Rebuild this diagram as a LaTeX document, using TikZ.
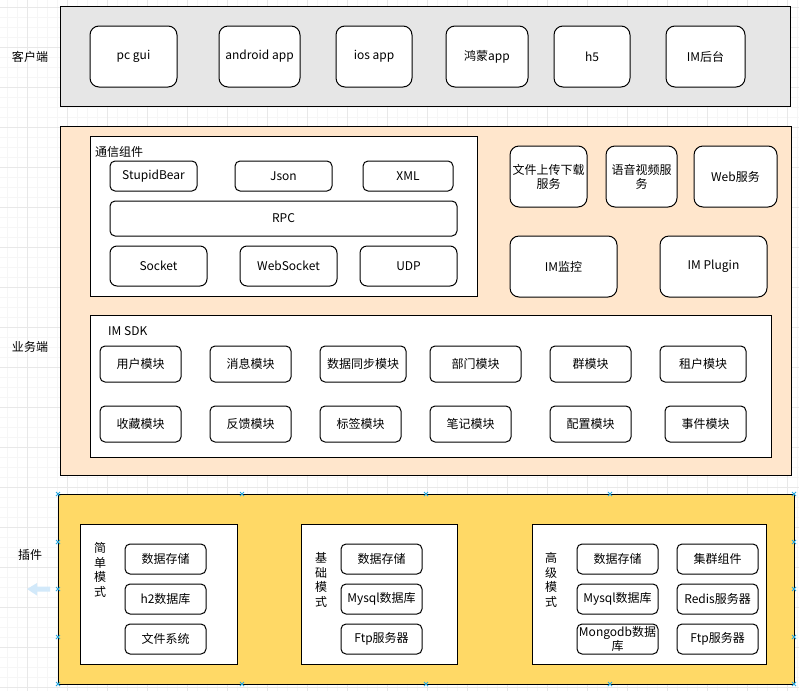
\documentclass[tikz,border=0pt]{standalone}
\usepackage{fontspec}
\setmainfont{Noto Sans CJK SC}
\definecolor{topfill}{HTML}{E6E6E6}
\definecolor{midfill}{HTML}{FFE6CC}
\definecolor{botfill}{HTML}{FFD966}
\definecolor{gridminor}{HTML}{F6F6F6}
\definecolor{gridmajor}{HTML}{E8E8E8}
\definecolor{handlecol}{HTML}{29A8E0}
\definecolor{hintarrow}{HTML}{D2E9FA}
\newcommand\fs{\fontsize{12}{14}\selectfont}
\tikzset{
  rbox/.style={draw, fill=white, rounded corners=#1, line width=1pt, inner sep=0pt, outer sep=0pt, align=center, font=\fs},
  rbox/.default=5pt,
  sqbox/.style={draw, line width=1pt, inner sep=0pt, outer sep=0pt},
  lbl/.style={inner sep=0pt, font=\fs, align=center},
  vlbl/.style={inner sep=0pt, font=\fontsize{12}{14.4}\selectfont, align=center},
  minorline/.style={draw=gridminor, line width=0.8pt},
  majorline/.style={draw=gridmajor, line width=0.8pt},
  handle/.style={draw=handlecol, line width=0.9pt},
}
\newcommand\rb[7][5pt]{\node[rbox=#1, minimum width={(#5-#3)*1pt}, minimum height={(#6-#4)*1pt}] (#2) at ({(#3+#5)/2},{(#4+#6)/2}) {#7};}
\newcommand\sq[6]{\node[sqbox, fill=#6, minimum width={(#4-#2)*1pt}, minimum height={(#5-#3)*1pt}] (#1) at ({(#2+#4)/2},{(#3+#5)/2}) {};}
\newcommand\hdl[2]{\draw[handle] ({#1-2},{#2-2}) -- ({#1+2},{#2+2}) ({#1-2},{#2+2}) -- ({#1+2},{#2-2});}
\begin{document}
\begin{tikzpicture}[x=1pt,y=-1pt]
\useasboundingbox (0,0) rectangle (799,691);
\fill[white] (0,0) rectangle (799,691);
% grid
\foreach \i in {7,17,...,797} \draw[minorline] (\i,0) -- (\i,691);
\foreach \i in {7,17,...,687} \draw[minorline] (0,\i) -- (799,\i);
\foreach \i in {27,67,...,787} \draw[majorline] (\i,0) -- (\i,691);
\foreach \i in {7,47,...,687} \draw[majorline] (0,\i) -- (799,\i);

% side labels
\node[lbl] (lclient) at (30,57) {客户端};
\node[lbl] (lbiz) at (30,347) {业务端};
\node[lbl] (lplug) at (30,555) {插件};

% client band
\sq{client}{60}{6}{790}{106}{topfill}
\rb[9pt]{pcgui}{90}{26}{177}{87}{pc gui}
\rb[9pt]{android}{219}{26}{300}{87}{android app}
\rb[9pt]{ios}{336}{26}{412}{87}{ios app}
\rb[9pt]{harmony}{446}{26}{528}{87}{鸿蒙app}
\rb[9pt]{hfive}{554}{26}{630}{87}{h5}
\rb[9pt]{imadmin}{666}{26}{745}{87}{IM后台}

% business band
\sq{biz}{60}{126}{791}{475}{midfill}
\sq{comm}{90}{136}{477}{296}{white}
\node[lbl, anchor=west] (commlbl) at (95,152) {通信组件};
\rb{stupid}{110}{161}{197}{191}{StupidBear}
\rb{json}{235}{161}{332}{191}{Json}
\rb{xml}{363}{161}{453}{191}{XML}
\rb{rpc}{110}{201}{457}{236}{RPC}
\rb[7pt]{socket}{110}{246}{207}{286}{Socket}
\rb[7pt]{websocket}{240}{246}{337}{286}{WebSocket}
\rb[7pt]{udp}{360}{246}{457}{286}{UDP}

\rb[9pt]{fileup}{510}{146}{587}{207}{文件上传下载\\服务}
\rb[9pt]{av}{606}{146}{677}{207}{语音视频服\\务}
\rb[9pt]{web}{694}{146}{777}{207}{Web服务}
\rb[9pt]{monitor}{510}{236}{617}{297}{IM监控}
\rb[9pt]{plugin}{660}{236}{767}{297}{IM Plugin}

\sq{sdk}{90}{315}{771}{457}{white}
\node[lbl, anchor=west] (sdklbl) at (108,331) {IM SDK};
\rb{user}{100}{346}{181}{382}{用户模块}
\rb{msg}{210}{346}{291}{382}{消息模块}
\rb{sync}{320}{346}{406}{382}{数据同步模块}
\rb{dept}{430}{346}{521}{382}{部门模块}
\rb{group}{550}{346}{631}{382}{群模块}
\rb{tenant}{660}{346}{746}{382}{租户模块}
\rb{fav}{100}{406}{181}{442}{收藏模块}
\rb{feedback}{210}{406}{291}{442}{反馈模块}
\rb{tag}{320}{406}{401}{442}{标签模块}
\rb{note}{430}{406}{511}{442}{笔记模块}
\rb{config}{550}{406}{631}{442}{配置模块}
\rb{event}{665}{406}{746}{442}{事件模块}

% plugin band
\sq{plug}{58}{494}{794}{684}{botfill}
\sq{simple}{80}{524}{237}{664}{white}
\node[vlbl] (simplelbl) at (100,570) {简\\单\\模\\式};
\rb{s1}{125}{544}{206}{574}{数据存储}
\rb{s2}{125}{584}{206}{614}{h2数据库}
\rb{s3}{125}{624}{206}{654}{文件系统}

\sq{basic}{301}{524}{457}{664}{white}
\node[vlbl] (basiclbl) at (321,580) {基\\础\\模\\式};
\rb{b1}{341}{544}{422}{574}{数据存储}
\rb{b2}{341}{584}{422}{614}{Mysql数据库}
\rb{b3}{341}{624}{422}{654}{Ftp服务器}

\sq{adv}{532}{524}{766}{664}{white}
\node[vlbl] (advlbl) at (551,580) {高\\级\\模\\式};
\rb{a1}{577}{544}{658}{574}{数据存储}
\rb{a2}{577}{584}{658}{614}{Mysql数据库}
\rb{a3}{577}{624}{658}{654}{Mongodb数据\\库}
\rb{a4}{677}{544}{758}{574}{集群组件}
\rb{a5}{677}{584}{758}{614}{Redis服务器}
\rb{a6}{677}{624}{758}{654}{Ftp服务器}

% selection handles
\foreach \hx in {58,242,426,610,794} {\hdl{\hx}{494} \hdl{\hx}{684}}
\foreach \hy in {542,589,637} {\hdl{58}{\hy} \hdl{794}{\hy}}
% hint arrow
\fill[hintarrow] (27,589) -- (37,583) -- (37,586.5) -- (50,586.5) -- (50,591.5) -- (37,591.5) -- (37,595.5) -- cycle;
\end{tikzpicture}
\end{document}
